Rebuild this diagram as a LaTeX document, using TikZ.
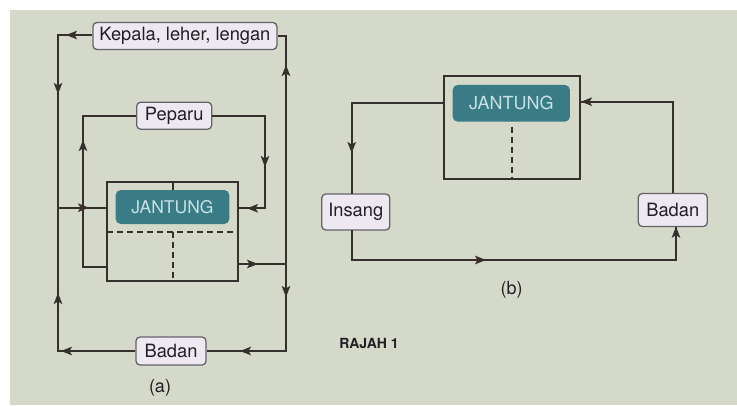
\documentclass[tikz,border=0pt]{standalone}
\usepackage{fontspec}
\setmainfont{TeX Gyre Heros}
\usetikzlibrary{arrows.meta}
\definecolor{bgc}{RGB}{213,217,202}
\definecolor{linec}{RGB}{55,47,43}
\definecolor{boxfill}{RGB}{238,232,241}
\definecolor{boxline}{RGB}{100,99,106}
\definecolor{labtext}{RGB}{35,30,36}
\definecolor{tealc}{RGB}{58,124,133}
\definecolor{jtext}{RGB}{200,225,230}
\tikzset{
  lbl/.style={draw=boxline, fill=boxfill, rounded corners=4pt, line width=1.3pt,
    inner sep=0pt, font=\fontsize{18.3}{20}\selectfont, text=labtext},
  heartlbl/.style={fill=tealc, rounded corners=5pt, inner sep=0pt,
    font=\fontsize{17.5}{20}\selectfont, text=jtext},
  frame/.style={draw=linec, line width=1.8pt, inner sep=0pt},
  flow/.style={draw=linec, line width=1.8pt},
  arr/.style={flow, -{Stealth[length=11pt,width=8.5pt,inset=2.5pt]}},
  dsh/.style={draw=linec, line width=1.8pt, dash pattern=on 6pt off 4pt},
  captxt/.style={font=\fontsize{18}{20}\selectfont, text=labtext},
}
\begin{document}
\begin{tikzpicture}[x=1pt,y=-1pt]
\useasboundingbox (0,0) rectangle (737,405);
\fill[white] (0,0) rectangle (737,405);
\fill[bgc] (10,10) rectangle (737,405);

% ---------- (a) ----------
\node[lbl, minimum width=184pt, minimum height=27pt] (kep) at (184.9,36) {Kepala, leher, lengan};
\node[lbl, minimum width=75pt, minimum height=27pt] (pep) at (174.2,115.7) {Peparu};
\node[lbl, minimum width=70pt, minimum height=28pt] (badA) at (171,351) {Badan};
\node[frame, minimum width=131pt, minimum height=99.3pt] (hA) at (172.2,231.35) {};
\node[heartlbl, minimum width=113.6pt, minimum height=34pt] (jA) at (172.5,207) {JANTUNG};

\coordinate (aTL) at (58,35);
\coordinate (aIn) at (58,207.7);
\coordinate (aHin) at (106.7,207.7);
\coordinate (aBL) at (58,351);
\coordinate (aTR) at (286,36);
\coordinate (aHout) at (237.7,264);
\coordinate (aOut) at (286,264);
\coordinate (aBR) at (286,351);
\coordinate (pHout) at (106.7,266.7);
\coordinate (pLB) at (83,266.7);
\coordinate (pLT) at (83,115.7);
\coordinate (pRT) at (265,115.7);
\coordinate (pRB) at (265,208.3);
\coordinate (pHin) at (237.7,208.3);
\coordinate (hTop) at (172.7,181.7);
\coordinate (dL) at (106.7,231.7);
\coordinate (dR) at (237.7,231.7);
\coordinate (dB) at (172.7,281);

% heart inner lines
\draw[flow] (hTop) -- (jA.north -| hTop);
\draw[dsh] (dL) -- (dR);
\draw[dsh] (hTop |- dL) -- (dB);

% connectors
\draw[flow] (kep.west |- aTL) -- (aTL) -- (aIn) -- (aHin);
\draw[flow] (badA.west) -- (aBL) -- (aIn);
\draw[flow] (aHout) -- (aOut) -- (aTR) -- (kep.east |- aTR);
\draw[flow] (aOut) -- (aBR) -- (badA.east);
\draw[flow] (pHout) -- (pLB) -- (pLT) -- (pep.west);
\draw[flow] (pep.east) -- (pRT) -- (pRB) -- (pHin);

% arrowheads
\coordinate (t1) at (66,35);
\coordinate (t2) at (58,94);
\coordinate (t3) at (89,207.7);
\coordinate (t4) at (61,351);
\coordinate (t5) at (58,293);
\coordinate (t6) at (83,140);
\coordinate (t7) at (265,167);
\coordinate (t8) at (247,208.3);
\coordinate (t9) at (258,264);
\coordinate (t10) at (286,65);
\coordinate (t11) at (286,297);
\coordinate (t12) at (240,351);
\draw[arr] (kep.west |- aTL) -- (t1);
\draw[arr] (aTL) -- (t2);
\draw[arr] (aIn) -- (t3);
\draw[arr] (badA.west) -- (t4);
\draw[arr] (aBL) -- (t5);
\draw[arr] (pLB) -- (t6);
\draw[arr] (pRT) -- (t7);
\draw[arr] (pRB) -- (t8);
\draw[arr] (aHout) -- (t9);
\draw[arr] (aOut) -- (t10);
\draw[arr] (aOut) -- (t11);
\draw[arr] (aBR) -- (t12);

\node[captxt] (capA) at (160,388) {(a)};

% ---------- (b) ----------
\node[frame, minimum width=136pt, minimum height=103.3pt] (hB) at (512,127.65) {};
\node[heartlbl, minimum width=117.3pt, minimum height=36.7pt, font=\fontsize{18}{20}\selectfont] (jB) at (511.3,103.3) {JANTUNG};
\node[lbl, minimum width=68pt, minimum height=36pt] (ins) at (355.8,212) {Insang};
\node[lbl, minimum width=69pt, minimum height=33pt] (badB) at (672.8,210) {Badan};

\coordinate (bHL) at (444,103.3);
\coordinate (bTL) at (351.7,103.3);
\coordinate (bInsT) at (351.7,194.3);
\coordinate (bInsB) at (351.7,230);
\coordinate (bBL) at (351.7,260);
\coordinate (bBR) at (676,260);
\coordinate (bBadB) at (676,226.7);
\coordinate (bBadT) at (672.7,193.3);
\coordinate (bTR) at (672.7,101.7);
\coordinate (bHR) at (581,101.7);
\coordinate (bD1) at (511.7,126.7);
\coordinate (bD2) at (511.7,179.3);

\draw[dsh] (bD1) -- (bD2);
\draw[flow] (bHL) -- (bTL) -- (bInsT);
\draw[flow] (bInsB) -- (bBL) -- (bBR) -- (bBadB);
\draw[flow] (bBadT) -- (bTR) -- (bHR);

\coordinate (t13) at (351.7,153);
\coordinate (t14) at (486,260);
\draw[arr] (bTL) -- (t13);
\draw[arr] (bBL) -- (t14);
\draw[arr] (bBR) -- (bBadB);
\draw[arr] (bTR) -- (bHR);

\node[captxt] (capB) at (511.7,290) {(b)};
\node[font=\bfseries\fontsize{14}{15}\selectfont, text=labtext] (raj) at (369,343) {RAJAH 1};
\end{tikzpicture}
\end{document}
